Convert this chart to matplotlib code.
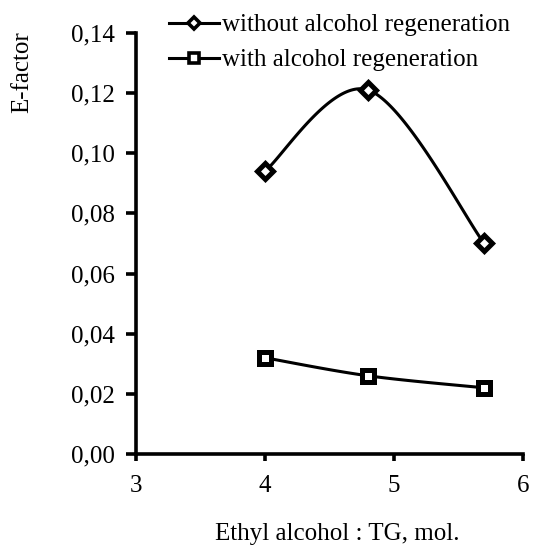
import numpy as np
import matplotlib
matplotlib.use("Agg")
import matplotlib.pyplot as plt
from matplotlib.lines import Line2D

x_vals = [4.0, 4.8, 5.7]
without_regen = [0.094, 0.121, 0.070]
with_regen = [0.032, 0.026, 0.022]
labels = ["without alcohol regeneration", "with alcohol regeneration"]
x_ticks = [3, 4, 5, 6]
y_ticks = [0.00, 0.02, 0.04, 0.06, 0.08, 0.10, 0.12, 0.14]

plt.rcParams['font.family'] = ['Liberation Serif', 'DejaVu Serif']


def smooth(xs, ys, n=60):
    p = np.column_stack([xs, ys]).astype(float)
    pts = np.vstack([p[0], p, p[-1]])
    out = []
    for i in range(1, len(pts) - 2):
        p0, p1, p2, p3 = pts[i - 1], pts[i], pts[i + 1], pts[i + 2]
        c1 = p1 + (p2 - p0) / 6.0
        c2 = p2 - (p3 - p1) / 6.0
        t = np.linspace(0, 1, n)[:, None]
        seg = ((1 - t) ** 3) * p1 + 3 * ((1 - t) ** 2) * t * c1 + 3 * (1 - t) * t ** 2 * c2 + t ** 3 * p2
        out.append(seg if i == 1 else seg[1:])
    s = np.vstack(out)
    return s[:, 0], s[:, 1]


fig = plt.figure(figsize=(5.33, 5.47), dpi=100)
ax = fig.add_axes([0.255, 0.170, 0.726, 0.770])

lw = 2.2
fs = 18
sx, sy = smooth(x_vals, without_regen)
ax.plot(sx, sy, color='black', lw=lw, zorder=2)
ax.plot(x_vals, without_regen, ls='none', marker='D', ms=8, mfc='white', mec='black', mew=3.6, zorder=3)
sx, sy = smooth(x_vals, with_regen)
ax.plot(sx, sy, color='black', lw=lw, zorder=2)
ax.plot(x_vals, with_regen, ls='none', marker='s', ms=9, mfc='white', mec='black', mew=3.6, zorder=3)

ax.set_xlim(3, 6)
ax.set_ylim(0, 0.14)
ax.set_xticks(x_ticks)
ax.set_xticklabels([str(v) for v in x_ticks])
ax.set_yticks(y_ticks)
ax.set_yticklabels([f"{v:.2f}".replace('.', ',') for v in y_ticks])
for s in ['top', 'right']:
    ax.spines[s].set_visible(False)
for s in ['left', 'bottom']:
    ax.spines[s].set_linewidth(2.6)
ax.spines['left'].set_capstyle('projecting')
ax.spines['bottom'].set_capstyle('projecting')
ax.tick_params(axis='y', labelsize=fs, width=2.6, length=7, direction='out', pad=8)
ax.tick_params(axis='x', labelsize=fs, width=2.6, length=5, direction='out', pad=10)

fig.text(0.633, 0.024, "Ethyl alcohol : TG, mol.", ha='center', va='center', fontsize=fs)
fig.text(0.041, 0.868, "E-factor", ha='center', va='center', rotation=90, fontsize=fs)

handles = [
    Line2D([], [], color='black', lw=lw, marker='D', ms=6, mfc='white', mec='black', mew=2.6),
    Line2D([], [], color='black', lw=lw, marker='s', ms=7, mfc='white', mec='black', mew=2.6),
]
fig.legend(handles, labels, loc='upper left', bbox_to_anchor=(0.308, 0.984), frameon=False,
           fontsize=fs, handlelength=2.0, handletextpad=0.1, labelspacing=0.5,
           borderaxespad=0.0, borderpad=0.2)

fig.savefig("out.png", dpi=100)
